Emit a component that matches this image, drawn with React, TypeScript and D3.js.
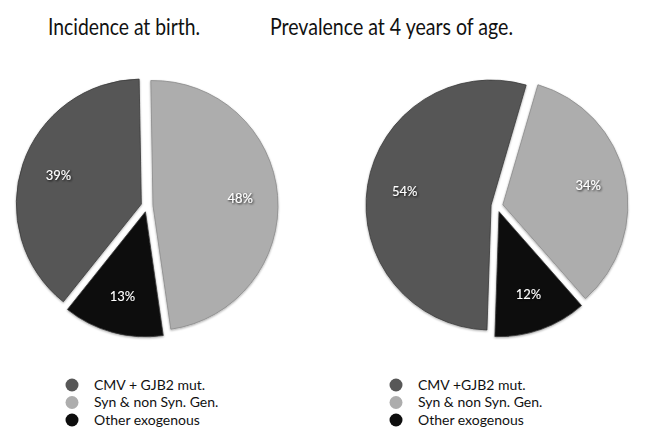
import React, { useEffect, useRef } from 'react';
import * as d3 from 'd3';

const titles = ['Incidence at birth.', 'Prevalence at 4 years of age.'];
const legendLeft = ['CMV + GJB2 mut.', 'Syn & non Syn. Gen.', 'Other exogenous'];
const legendRight = ['CMV +GJB2 mut.', 'Syn & non Syn. Gen.', 'Other exogenous'];
// values in category order: CMV+GJB2, Syn/non-syn genetic, other exogenous
const birthValues = [39, 48, 13];
const age4Values = [54, 34, 12];
const colors = ['#575757', '#adadad', '#0e0e0e'];
// slices go clockwise from the start angle in this order
const sliceOrder = [1, 2, 0];

const FONT = "'Gill Sans', 'Gill Sans MT', Lato, 'Noto Sans', sans-serif";

const App: React.FC = () => {
  const svgRef = useRef<SVGSVGElement>(null);

  useEffect(() => {
    if (!svgRef.current) return;
    const width = 646;
    const height = 430;
    const svg = d3.select(svgRef.current)
      .attr('width', width)
      .attr('height', height)
      .html('');

    const defs = svg.append('defs');
    defs.append('filter')
      .attr('id', 'lblShadow')
      .attr('x', '-30%').attr('y', '-30%').attr('width', '160%').attr('height', '160%')
      .append('feDropShadow')
      .attr('dx', 1).attr('dy', 1).attr('stdDeviation', 0.8)
      .attr('flood-color', '#000').attr('flood-opacity', 0.9);
    defs.append('filter')
      .attr('id', 'sliceShadow')
      .attr('x', '-10%').attr('y', '-10%').attr('width', '120%').attr('height', '120%')
      .append('feDropShadow')
      .attr('dx', 0).attr('dy', 1).attr('stdDeviation', 1.2)
      .attr('flood-color', '#000').attr('flood-opacity', 0.35);

    const radius = 125;
    const explode = 6;
    const charts = [
      { values: birthValues, cx: 147, cy: 206, start: -1, title: titles[0], tx: 48, tw: 152, legend: legendLeft, lx: 72 },
      { values: age4Values, cx: 497, cy: 206, start: 16.3, title: titles[1], tx: 270, tw: 243, legend: legendRight, lx: 396 },
    ];

    const arc = d3.arc<d3.PieArcDatum<number>>().innerRadius(0).outerRadius(radius);

    charts.forEach((c) => {
      svg.append('text')
        .attr('x', c.tx)
        .attr('y', 35)
        .attr('font-family', FONT)
        .attr('font-size', 24)
        .attr('textLength', c.tw)
        .attr('lengthAdjust', 'spacingAndGlyphs')
        .attr('fill', '#111')
        .text(c.title);

      const pie = d3.pie<number>()
        .sort(null)
        .value((i) => c.values[i])
        .startAngle((c.start * Math.PI) / 180)
        .endAngle((c.start * Math.PI) / 180 + Math.PI * 2);

      const arcs = pie(sliceOrder);
      const g = svg.append('g').attr('transform', `translate(${c.cx},${c.cy})`);

      arcs.forEach((a) => {
        const mid = (a.startAngle + a.endAngle) / 2;
        const ox = Math.sin(mid) * explode;
        const oy = -Math.cos(mid) * explode;
        const idx = a.data;
        const sg = g.append('g').attr('transform', `translate(${ox},${oy})`);
        sg.append('path')
          .attr('d', arc(a as any) as string)
          .attr('fill', colors[idx])
          .attr('stroke', idx === 1 ? '#8a8a8a' : '#3a3a3a')
          .attr('stroke-width', 0.8)
          .attr('filter', 'url(#sliceShadow)');
        const lr = radius * 0.7;
        sg.append('text')
          .attr('x', Math.sin(mid) * lr)
          .attr('y', -Math.cos(mid) * lr)
          .attr('dy', '0.35em')
          .attr('text-anchor', 'middle')
          .attr('font-family', FONT)
          .attr('font-size', 13)
          .attr('fill', '#fff')
          .attr('filter', 'url(#lblShadow)')
          .text(`${c.values[idx]}%`);
      });

      const lg = svg.append('g');
      c.legend.forEach((label, i) => {
        const y = 385 + i * 17.5;
        lg.append('circle')
          .attr('cx', c.lx)
          .attr('cy', y)
          .attr('r', 6.5)
          .attr('fill', colors[i]);
        lg.append('text')
          .attr('x', c.lx + 22)
          .attr('y', y)
          .attr('dy', '0.35em')
          .attr('font-family', FONT)
          .attr('font-size', 14)
          .attr('fill', '#111')
          .text(label);
      });
    });
  }, []);

  return (
    <div style={{ position: 'absolute', left: 0, top: 0, background: '#fff' }}>
      <svg ref={svgRef} style={{ display: 'block' }}></svg>
    </div>
  );
};

export default App;
